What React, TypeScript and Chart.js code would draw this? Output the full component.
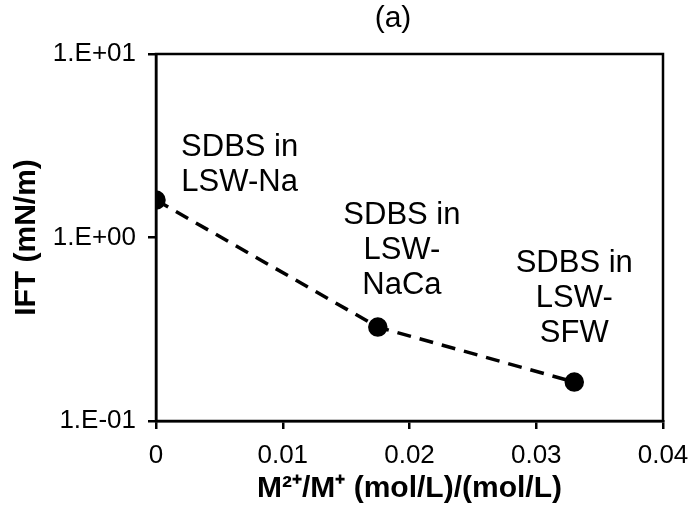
import React, { useEffect, useRef } from "react";
import { Chart, registerables } from "chart.js";

Chart.register(...registerables);

// ---- data ----
const ratioValues = [0, 0.0175, 0.033];
const iftValues = [1.6, 0.325, 0.163];
const yTickValues = [0.1, 1, 10];
const xTickStep = 0.01;
const chartTitle = "(a)";
const annotationLines = [
  ["SDBS in", "LSW-Na"],
  ["SDBS in", "LSW-", "NaCa"],
  ["SDBS in", "LSW-", "SFW"],
];
const annotationX = [0.0066, 0.0194, 0.033];
const annotationY = [2.78, 1.185, 0.649];

const FONT = "'Liberation Sans', Arial, Helvetica, sans-serif";

const fmtExp = (v: number) => {
  const e = Math.round(Math.log10(v));
  const s = e >= 0 ? "+" : "-";
  const a = Math.abs(e);
  return `1.E${s}${a < 10 ? "0" + a : a}`;
};

const framePlugin = {
  id: "frame",
  afterDraw(chart: any) {
    const { ctx, chartArea } = chart;
    ctx.save();
    ctx.strokeStyle = "#000";
    ctx.lineWidth = 2.5;
    ctx.strokeRect(chartArea.left, chartArea.top, chartArea.right - chartArea.left, chartArea.bottom - chartArea.top);
    // panel title
    ctx.fillStyle = "#000";
    ctx.font = `30px ${FONT}`;
    ctx.textAlign = "center";
    ctx.textBaseline = "middle";
    ctx.fillText(chartTitle, 393, 19);
    ctx.restore();
  },
};

const annotationPlugin = {
  id: "textNotes",
  afterDatasetsDraw(chart: any) {
    const { ctx, scales } = chart;
    ctx.save();
    ctx.fillStyle = "#000";
    ctx.font = `31px ${FONT}`;
    ctx.textAlign = "center";
    ctx.textBaseline = "alphabetic";
    annotationLines.forEach((lines, i) => {
      const px = scales.x.getPixelForValue(annotationX[i]);
      const py = scales.y.getPixelForValue(annotationY[i]);
      lines.forEach((t, j) => ctx.fillText(t, px, py + j * 35));
    });
    ctx.restore();
  },
};

export default function App() {
  const ref = useRef<HTMLCanvasElement | null>(null);
  useEffect(() => {
    if (!ref.current) return;
    const chart = new Chart(ref.current, {
      type: "scatter",
      data: {
        datasets: [
          {
            data: ratioValues.map((x, i) => ({ x, y: iftValues[i] })),
            showLine: true,
            borderColor: "#000",
            backgroundColor: "#000",
            borderWidth: 3.5,
            borderDash: [14, 9],
            pointRadius: 8,
            pointHoverRadius: 8,
            pointBackgroundColor: "#000",
            pointBorderColor: "#000",
          },
        ],
      },
      options: {
        responsive: false,
        animation: false,
        layout: { padding: { left: 0, right: 28, top: 54, bottom: 0 } },
        plugins: {
          legend: { display: false },
          tooltip: { enabled: false },
          title: { display: false },
        },
        scales: {
          x: {
            type: "linear",
            min: 0,
            max: 0.04,
            ticks: {
              stepSize: xTickStep,
              color: "#000",
              font: { family: FONT, size: 26 },
              padding: 11,
              maxRotation: 0,
              callback: (v: any) => String(Number(Number(v).toFixed(3))),
            },
            grid: {
              display: true,
              drawOnChartArea: false,
              drawTicks: true,
              tickLength: 8,
              color: "#000",
              lineWidth: 2.5,
            },
            border: { display: true, color: "#000", width: 2.5 },
            title: {
              display: true,
              text: "M²⁺/M⁺ (mol/L)/(mol/L)",
              color: "#000",
              font: { family: FONT, size: 30, weight: "bold", lineHeight: 1.1 },
              padding: { top: 0, bottom: 0 },
            },
            afterFit: (s: any) => {
              s.height = 84;
              s.paddingLeft = 0;
              s.paddingRight = 0;
            },
          },
          y: {
            type: "logarithmic",
            min: 0.1,
            max: 10,
            afterBuildTicks: (s: any) => {
              s.ticks = yTickValues.map((v) => ({ value: v }));
            },
            ticks: {
              color: "#000",
              font: { family: FONT, size: 26 },
              padding: 12,
              callback: (v: any) => fmtExp(Number(v)),
            },
            grid: {
              display: true,
              drawOnChartArea: false,
              drawTicks: true,
              tickLength: 8,
              color: "#000",
              lineWidth: 2.5,
            },
            border: { display: true, color: "#000", width: 2.5 },
            title: {
              display: true,
              text: "IFT (mN/m)",
              color: "#000",
              font: { family: FONT, size: 30, weight: "bold", lineHeight: 1.1 },
              padding: { top: 10, bottom: 10 },
            },
            afterFit: (s: any) => {
              s.width = 156;
              s.paddingTop = 0;
              s.paddingBottom = 0;
            },
          },
        },
      },
      plugins: [framePlugin, annotationPlugin],
    });
    return () => chart.destroy();
  }, []);
  return (
    <div style={{ position: "fixed", left: 0, top: 0, width: 691, height: 505, background: "#fff" }}>
      <canvas ref={ref} width={691} height={505} />
    </div>
  );
}
